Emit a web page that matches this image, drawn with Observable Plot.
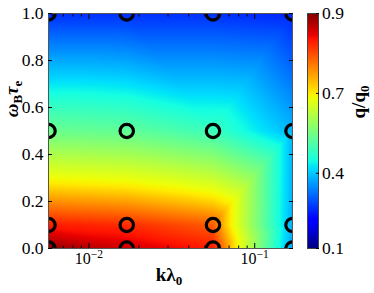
<!DOCTYPE html>
<html><head><meta charset="utf-8">
<script src="https://cdn.jsdelivr.net/npm/d3@7"></script>
<script src="https://cdn.jsdelivr.net/npm/@observablehq/plot@0.6"></script>
<style>
body{margin:0;background:#fff;}
#wrap{position:relative;width:374px;height:293px;}
#wrap svg{position:absolute;left:0;top:0;}
#wrap svg text{font-family:"Liberation Serif",serif;}
</style></head><body><div id="wrap"></div>
<script>
// data
const kLambda = [0.0057, 0.0169, 0.056, 0.169];   // x grid (k lambda_0)
const omegaTau = [0, 0.1, 0.5, 1.0];              // y grid (omega_B tau_e)
const q_w00 = [0.89, 0.86, 0.83, 0.37];
const q_w01 = [0.83, 0.82, 0.79, 0.38];
const q_w05 = [0.54, 0.53, 0.49, 0.385];
const q_w10 = [0.26, 0.26, 0.26, 0.25];
const qRows = [q_w00, q_w01, q_w05, q_w10];
const yTicks = [0, 0.2, 0.4, 0.6, 0.8, 1.0];
const xTicks = [0.01, 0.1];
const xTickLabels = ["10^-2", "10^-1"];
const cbTicks = [0.1, 0.4, 0.7, 0.9];
const cbFrac = [0, 0.32, 0.66, 1];

const points = [];
omegaTau.forEach((w, i) => kLambda.forEach((k, j) => points.push({k, w, q: qRows[i][j]})));

const xMinor = [];
for (const dec of [0.001, 0.01, 0.1]) for (let m = 2; m <= 9; m++) {
  const v = +(m * dec).toPrecision(3);
  if (v >= kLambda[0] && v <= kLambda[3]) xMinor.push(v);
}

// matplotlib jet
const R = [[0,0],[0.35,0],[0.66,1],[0.89,1],[1,0.5]];
const G = [[0,0],[0.125,0],[0.375,1],[0.64,1],[0.91,0],[1,0]];
const B = [[0,0.5],[0.11,1],[0.34,1],[0.65,0],[1,0]];
function seg(p, t) {
  for (let i = 1; i < p.length; i++) if (t <= p[i][0]) {
    const [t0, v0] = p[i-1], [t1, v1] = p[i];
    return v0 + (v1 - v0) * (t - t0) / (t1 - t0);
  }
  return p[p.length-1][1];
}
function jet(t) {
  t = Math.max(0, Math.min(1, t));
  return `rgb(${Math.round(255*seg(R,t))},${Math.round(255*seg(G,t))},${Math.round(255*seg(B,t))})`;
}
const colorOpts = {type: "linear", domain: cbTicks, range: cbFrac, interpolate: jet};
const font = "Liberation Serif";
const baseStyle = {fontFamily: font, fontSize: "17.5px", color: "black", background: "transparent", overflow: "visible"};

const main = Plot.plot({
  width: 374, height: 293,
  marginLeft: 48, marginRight: 82, marginTop: 13, marginBottom: 45,
  style: baseStyle,
  x: {type: "log", domain: [kLambda[0], kLambda[kLambda.length-1]]},
  y: {domain: [0, 1]},
  color: colorOpts,
  marks: [
    Plot.raster(points, {x: "k", y: "w", fill: "q", interpolate: "barycentric"}),
    Plot.dot(points, {x: "k", y: "w", r: 6.7, stroke: "black", strokeWidth: 3.2, fill: "none", clip: true}),
    Plot.frame({stroke: "#555"}),
    Plot.axisY(yTicks, {anchor: "left", tickSize: -4, tickPadding: 9, fontFamily: font, tickFormat: d3.format(".1f"), label: null}),
    Plot.axisY(yTicks, {anchor: "right", tickSize: -4, tickFormat: () => "", label: null}),
    Plot.axisX(xTicks, {anchor: "bottom", tickSize: -5, tickPadding: 9, fontSize: 16, fontFamily: font,
      tickFormat: d => xTickLabels[xTicks.indexOf(d)], label: null}),
    Plot.axisX(xMinor, {anchor: "bottom", tickSize: -2.5, tickFormat: () => "", label: null}),
    Plot.axisX(xTicks, {anchor: "top", tickSize: -5, tickFormat: () => "", label: null}),
    Plot.axisX(xMinor, {anchor: "top", tickSize: -2.5, tickFormat: () => "", label: null})
  ]
});

const cb = Plot.plot({
  width: 374, height: 293,
  marginLeft: 307, marginRight: 56, marginTop: 13, marginBottom: 45,
  style: baseStyle,
  x: {domain: [0, 1], axis: null},
  y: {type: "linear", domain: cbTicks, range: cbFrac.map(f => 248 - f * 235)},
  color: colorOpts,
  marks: [
    Plot.raster({x1: 0, x2: 1, y1: cbTicks[0], y2: cbTicks[cbTicks.length-1], fill: (x, y) => y}),
    Plot.frame({stroke: "#444"}),
    Plot.axisY(cbTicks, {anchor: "right", tickSize: -3, tickPadding: 6.5, fontFamily: font, tickFormat: d3.format(".1f"), label: null})
  ]
});

const wrap = document.getElementById("wrap");
wrap.appendChild(main);
wrap.appendChild(cb);
d3.select(main).style("background", "#fff");

// superscript exponents for the log tick labels
d3.select(main).selectAll("text").each(function() {
  const s = this.textContent;
  if (!s.includes("^")) return;
  const [b, e] = s.split("^");
  this.textContent = "";
  d3.select(this).append("tspan").text(b);
  d3.select(this).append("tspan").attr("dy", "-0.5em").attr("font-size", "11.5px").text(e.replace("-", "\u2212"));
});

const sm = d3.select(main);
const yl = sm.append("text").attr("transform", "translate(18,99) rotate(-90)")
  .attr("text-anchor", "middle").attr("font-family", font).attr("font-weight", "bold").attr("font-size", 19).attr("fill", "black");
yl.append("tspan").attr("font-style", "italic").text("ω");
yl.append("tspan").attr("font-size", 13).attr("dy", 4).text("B");
yl.append("tspan").attr("font-style", "italic").attr("dy", -4).text("τ");
yl.append("tspan").attr("font-size", 13).attr("dy", 4).text("e");

const xl = sm.append("text").attr("x", 169).attr("y", 281)
  .attr("text-anchor", "middle").attr("font-family", font).attr("font-weight", "bold").attr("font-size", 19).attr("fill", "black");
xl.append("tspan").text("kλ");
xl.append("tspan").attr("font-size", 13).attr("dy", 4).text("0");

const cl = d3.select(cb).append("text").attr("transform", "translate(365,102) rotate(-90)")
  .attr("text-anchor", "middle").attr("font-family", font).attr("font-weight", "bold").attr("font-size", 19).attr("fill", "black");
cl.append("tspan").text("q/q");
cl.append("tspan").attr("font-size", 13).attr("dy", 4).text("0");
</script></body></html>
